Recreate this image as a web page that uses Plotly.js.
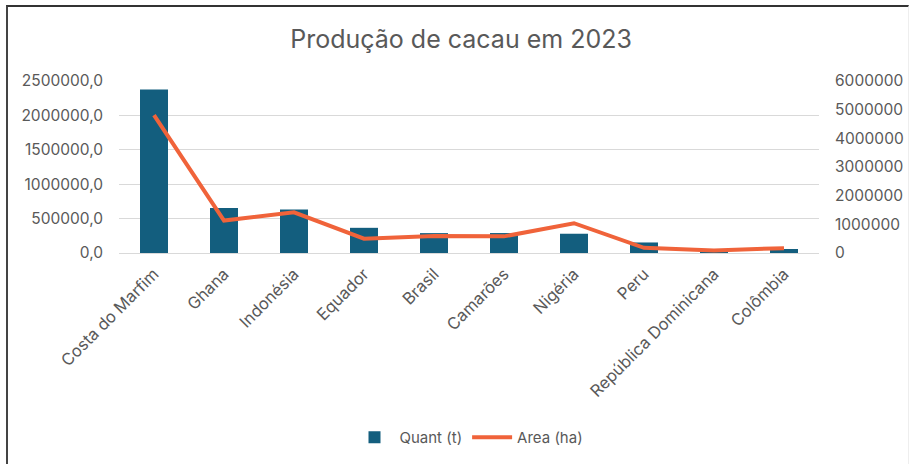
<!DOCTYPE html>
<html>
<head>
<meta charset="utf-8">
<script src="https://cdn.plot.ly/plotly-3.0.1.min.js"></script>
<style>
html,body{margin:0;padding:0;background:#fff;}
#frame{position:absolute;left:6px;top:5px;width:903px;height:459px;border-top:2px solid #333;border-left:2px solid #444;border-right:1px solid #eee;box-sizing:border-box;}
#chart{position:absolute;left:0;top:0;width:913px;height:464px;}
</style>
</head>
<body>
<div id="chart"></div>
<div id="frame"></div>
<script>
const categories = ["Costa do Marfim","Ghana","Indonésia","Equador","Brasil","Camarões","Nigéria","Peru","República Dominicana","Colômbia"];
const quantT = [2377000, 654000, 632000, 366000, 289000, 290000, 280000, 153000, 40000, 58000];
const areaHa = [4810000, 1130000, 1420000, 500000, 590000, 580000, 1040000, 180000, 90000, 170000];
const leftTicks = [0, 500000, 1000000, 1500000, 2000000, 2500000];
const leftTickText = ["0,0","500000,0","1000000,0","1500000,0","2000000,0","2500000,0"];
const rightTicks = [0,1000000,2000000,3000000,4000000,5000000,6000000];
const rightTickText = ["0","1000000","2000000","3000000","4000000","5000000","6000000"];

const font = "Inter, Lato, sans-serif";
const data = [
  {type:"bar", name:"Quant (t)", x:categories, y:quantT, marker:{color:"#135E7E"}, width:0.4},
  {type:"scatter", mode:"lines", name:"Area (ha)", x:categories, y:areaHa, yaxis:"y2",
   line:{color:"#F0633A", width:4}}
];
const layout = {
  width:913, height:464,
  margin:{l:119, r:94, t:81, b:210},
  paper_bgcolor:"#fff", plot_bgcolor:"#fff",
  font:{family:font, color:"#595959", size:15},
  title:{text:"Produção de cacau em 2023", x:0.505, xanchor:"center", y:0.915, yanchor:"middle",
         font:{size:25, color:"#595959", family:font}},
  xaxis:{tickangle:-45, showgrid:false, linecolor:"#d9d9d9", showline:true, ticks:"",
         automargin:false, ticklabelstandoff:4, tickfont:{size:16.5, color:"#595959"}},
  yaxis:{range:[0,2500000], tickvals:leftTicks, ticktext:leftTickText, gridcolor:"#d9d9d9",
         gridwidth:1, zeroline:false, ticks:"", automargin:false, ticklabelstandoff:15,
         tickfont:{size:15.5, color:"#595959"}},
  yaxis2:{overlaying:"y", side:"right", range:[0,6000000], tickvals:rightTicks, ticktext:rightTickText,
          showgrid:false, zeroline:false, ticks:"", automargin:false, ticklabelstandoff:15,
          tickfont:{size:15.5, color:"#595959"}},
  showlegend:true,
  legend:{orientation:"h", x:0.5, xanchor:"center", y:-1.06, yanchor:"middle",
          font:{size:15, color:"#595959"}, traceorder:"normal", itemwidth:40}
};
Plotly.newPlot("chart", data, layout, {displayModeBar:false, staticPlot:true});
</script>
</body>
</html>
